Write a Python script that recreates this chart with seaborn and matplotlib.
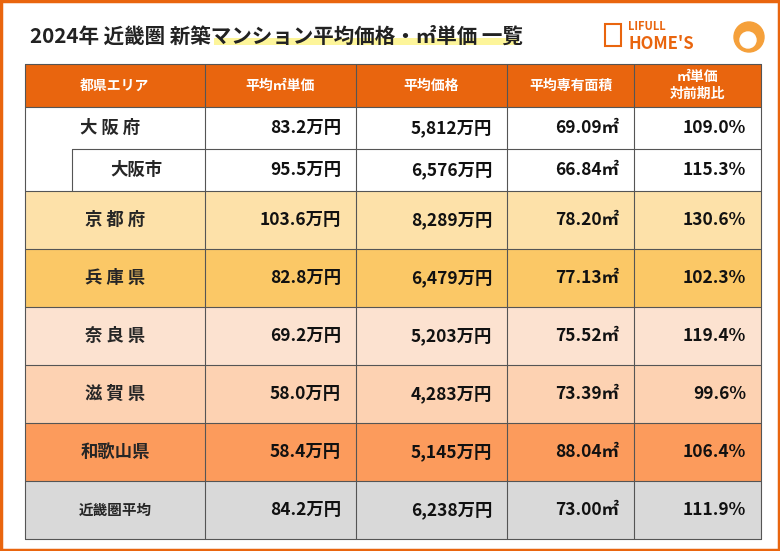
import matplotlib
matplotlib.use("Agg")
import matplotlib.pyplot as plt
import seaborn as sns
from matplotlib.patches import Rectangle, Circle

sns.set_theme(style="white", font="Noto Sans CJK JP")

# DATA
headers = ["都県エリア", "平均㎡単価", "平均価格", "平均専有面積", "㎡単価\n対前期比"]
areas = ["大 阪 府", "大阪市", "京 都 府", "兵 庫 県", "奈 良 県", "滋 賀 県", "和歌山県", "近畿圏平均"]
unit_price = [83.2, 95.5, 103.6, 82.8, 69.2, 58.0, 58.4, 84.2]
avg_price = [5812, 6576, 8289, 6479, 5203, 4283, 5145, 6238]
floor_area = [69.09, 66.84, 78.20, 77.13, 75.52, 73.39, 88.04, 73.00]
yoy = [109.0, 115.3, 130.6, 102.3, 119.4, 99.6, 106.4, 111.9]
row_colors = ["#FFFFFF", "#FFFFFF", "#FDE1A9", "#FBC866", "#FCE2D0", "#FDD2B2", "#FC9B5C", "#D9D9D9"]

# LAYOUT (pixels)
col_x = [25, 205, 356, 507, 634, 761]
row_y = [107, 149, 191, 249, 307, 365, 423, 481, 539]
head_top = 64
orange = "#E9650E"
line_c = "#555555"

fig = plt.figure(figsize=(7.8, 5.51), dpi=100)
ax = fig.add_axes([0, 0, 1, 1])
ax.set_xlim(0, 780)
ax.set_ylim(551, 0)
ax.axis("off")

# outer border
ax.add_patch(Rectangle((1, 1), 778, 549, fill=False, ec=orange, lw=2.5))

# title
ax.add_patch(Rectangle((214, 38), 304, 7, color="#FDF59A", lw=0))
ax.text(30, 36, "2024年 近畿圏 新築マンション平均価格・㎡単価 一覧",
        fontsize=14.8, fontweight="bold", va="center", color="#222222")

# logo
ax.text(628, 27, "LIFULL", fontsize=8, color=orange, fontweight="bold", va="center")
ax.text(628, 44, "HOME'S", fontsize=12, color=orange, fontweight="bold", va="center")
ax.add_patch(Rectangle((605, 24), 16, 22, fill=False, ec=orange, lw=1.5))
ax.add_patch(Circle((749, 37), 15, color="#F5A03A"))
ax.add_patch(Circle((748, 40), 8, color="#FFFFFF"))

# header
ax.add_patch(Rectangle((col_x[0], head_top), col_x[-1] - col_x[0], row_y[0] - head_top,
                       color=orange, lw=0))
for i, h in enumerate(headers):
    cx = (col_x[i] + col_x[i + 1]) / 2
    ax.text(cx, (head_top + row_y[0]) / 2, h, ha="center", va="center",
            color="white", fontsize=10, fontweight="bold", linespacing=1.3)

# rows
for r in range(len(areas)):
    y0, y1 = row_y[r], row_y[r + 1]
    ax.add_patch(Rectangle((col_x[0], y0), col_x[-1] - col_x[0], y1 - y0,
                           color=row_colors[r], lw=0))
    cy = (y0 + y1) / 2
    if r == 0:
        ax.text(80, cy, areas[r], ha="left", va="center", fontsize=12.5, fontweight="bold")
    elif r == 1:
        ax.text(110, cy, areas[r], ha="left", va="center", fontsize=12.5, fontweight="bold")
    elif r == len(areas) - 1:
        ax.text(115, cy, areas[r], ha="center", va="center", fontsize=10.5, fontweight="bold")
    else:
        ax.text(115, cy, areas[r], ha="center", va="center", fontsize=12.5, fontweight="bold")
    vals = [f"{unit_price[r]:.1f}万円", f"{avg_price[r]:,}万円",
            f"{floor_area[r]:.2f}㎡", f"{yoy[r]:.1f}%"]
    for c, v in enumerate(vals):
        ax.text(col_x[c + 2] - 15, cy, v, ha="right", va="center",
                fontsize=12.5, fontweight="bold", color="#111111")

# grid lines
for i, y in enumerate(row_y):
    x_start = 72 if i == 1 else col_x[0]
    ax.plot([x_start, col_x[-1]], [y, y], color=line_c, lw=0.8)
ax.plot([col_x[0], col_x[-1]], [head_top, head_top], color=line_c, lw=0.8)
for x in col_x:
    ax.plot([x, x], [head_top, row_y[-1]], color=line_c, lw=0.8)
# inner left line for 大阪市
ax.plot([72, 72], [row_y[1], row_y[2]], color=line_c, lw=0.8)

fig.savefig("out.png", dpi=100)
